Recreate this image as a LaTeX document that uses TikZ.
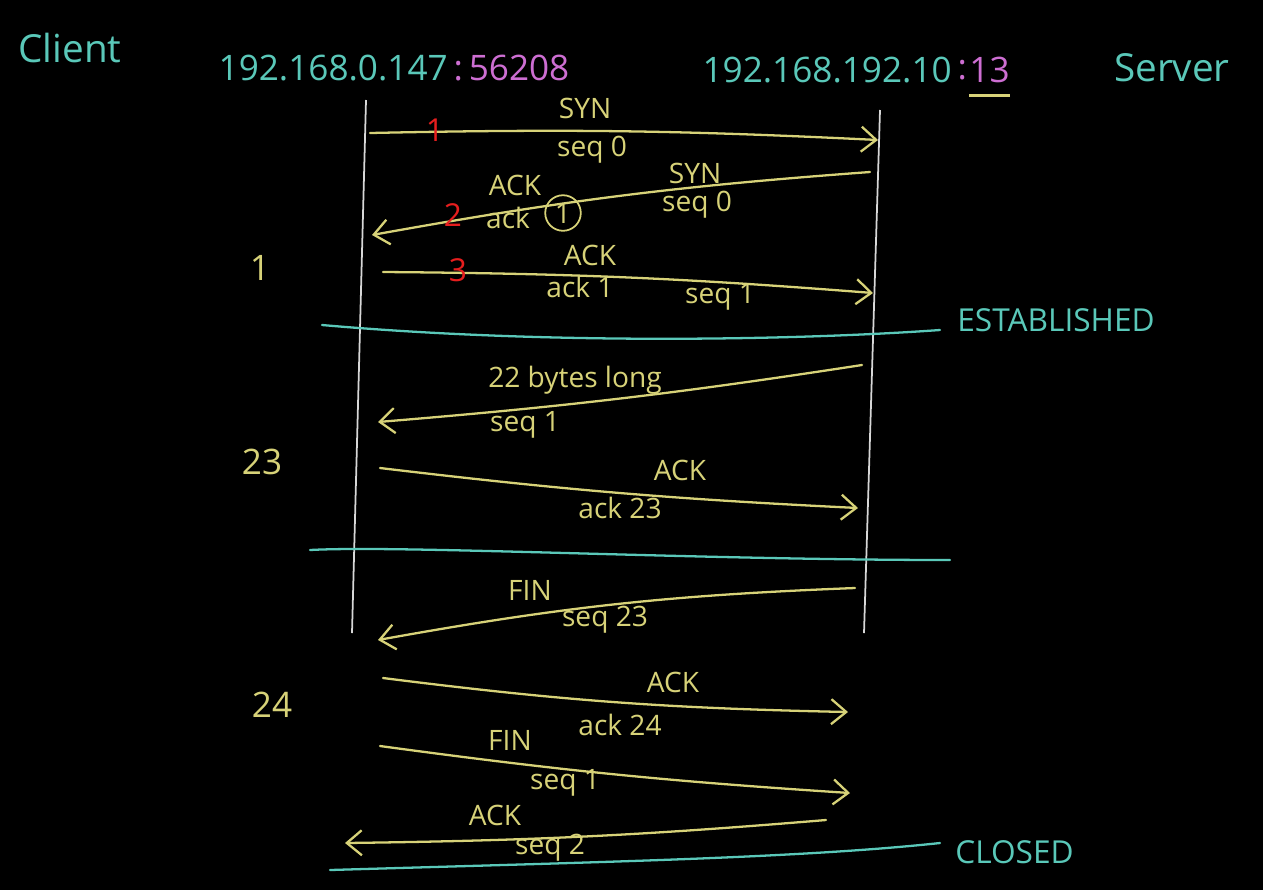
\documentclass[tikz,border=0pt]{standalone}
\usepackage{fontspec}
\setmainfont{Open Sans}
\usetikzlibrary{arrows.meta,positioning}
\definecolor{chalkteal}{RGB}{90,200,185}
\definecolor{chalkyellow}{RGB}{215,210,120}
\definecolor{chalkpink}{RGB}{205,110,210}
\definecolor{chalkred}{RGB}{230,30,30}
\definecolor{chalkgrey}{RGB}{215,215,215}

\begin{document}
\begin{tikzpicture}[
  x=0.02cm, y=-0.02cm,
  msg/.style={draw=chalkyellow, line width=1.3pt, line cap=round,
    -{Straight Barb[length=3mm,width=5mm,line width=1.3pt]}},
  lane/.style={draw=chalkgrey, line width=1pt},
  state/.style={draw=chalkteal, line width=1.3pt, line cap=round},
  lbl/.style={text=chalkyellow, font=\fontsize{16}{18}\selectfont, inner sep=1pt},
  count/.style={text=chalkyellow, font=\fontsize{20}{22}\selectfont, inner sep=0pt},
  head/.style={text=chalkteal, font=\fontsize{22}{24}\selectfont, inner sep=0pt},
  addr/.style={text=chalkteal, font=\fontsize{20}{22}\selectfont, inner sep=0pt},
  port/.style={text=chalkpink, font=\fontsize{20}{22}\selectfont, inner sep=0pt},
  stepnum/.style={text=chalkred, font=\fontsize{18}{20}\selectfont, inner sep=0pt},
  statelbl/.style={text=chalkteal, font=\fontsize{18}{20}\selectfont, inner sep=0pt, anchor=west}
]
  \fill[black] (0,0) rectangle (1263,890);
  \useasboundingbox (0,0) rectangle (1263,890);

  % headers
  \node[head] (client) at (70,48) {Client};
  \node[head] (server) at (1172,68) {Server};
  \node[addr, anchor=east] (caddr) at (448,68) {192.168.0.147};
  \node[port, right=3pt of caddr] (cport) {:\,56208};
  \node[addr, anchor=east] (saddr) at (952,70) {192.168.192.10};
  \node[port, right=3pt of saddr] (scolon) {:};
  \node[port, right=1pt of scolon] (sport) {13};
  \draw[chalkyellow, line width=1.3pt] ([yshift=-7pt]sport.south west) -- ([yshift=-7pt]sport.south east);

  % lifelines
  \coordinate (clitop) at (366,100);
  \coordinate (clibot) at (352,633);
  \coordinate (srvtop) at (880,110);
  \coordinate (srvbot) at (864,633);
  \draw[lane] (clitop) -- (clibot);
  \draw[lane] (srvtop) -- (srvbot);

  % message ends
  \coordinate (synA) at (370,133);   \coordinate (synB) at (878,140);
  \coordinate (synackA) at (870,172); \coordinate (synackB) at (372,235);
  \coordinate (ackA) at (383,272);   \coordinate (ackB) at (873,293);
  \coordinate (dataA) at (862,365);  \coordinate (dataB) at (378,422);
  \coordinate (dackA) at (380,468);  \coordinate (dackB) at (858,508);
  \coordinate (finA) at (855,588);   \coordinate (finB) at (378,640);
  \coordinate (fackA) at (383,678);  \coordinate (fackB) at (848,712);
  \coordinate (cfinA) at (380,746);  \coordinate (cfinB) at (850,793);
  \coordinate (lastA) at (826,820);  \coordinate (lastB) at (345,843);

  \draw[msg] (synA) to[bend left=2] (synB);
  \draw[msg] (synackA) to[bend right=3] (synackB);
  \draw[msg] (ackA) to[bend left=2] (ackB);
  \draw[msg] (dataA) to[bend left=2] (dataB);
  \draw[msg] (dackA) to[bend right=2] (dackB);
  \draw[msg] (finA) to[bend right=4] (finB);
  \draw[msg] (fackA) to[bend right=3] (fackB);
  \draw[msg] (cfinA) to[bend right=2] (cfinB);
  \draw[msg] (lastA) to[bend left=2] (lastB);

  % labels on messages
  \node[lbl] (syn1) at (585,108) {SYN};
  \node[lbl] (seq1) at (592,150) {seq 0};
  \node[lbl] (ack2) at (515,185) {ACK};
  \node[lbl] (ackword) at (508,218) {ack};
  \node[lbl, draw=chalkyellow, circle, inner sep=2pt, line width=1pt] (ackone) at (563,213) {1};
  \node[lbl] (syn2) at (695,173) {SYN};
  \node[lbl] (seq2) at (697,205) {seq 0};
  \node[lbl] (ack3) at (590,255) {ACK};
  \node[lbl] (ackval3) at (580,287) {ack 1};
  \node[lbl] (seq3) at (720,297) {seq 1};
  \node[lbl] (bytes) at (575,380) {22 bytes long};
  \node[lbl] (seq4) at (525,425) {seq 1};
  \node[lbl] (ack5) at (680,470) {ACK};
  \node[lbl] (ackval5) at (620,508) {ack 23};
  \node[lbl] (fin6) at (530,590) {FIN};
  \node[lbl] (seq6) at (605,620) {seq 23};
  \node[lbl] (ack7) at (673,682) {ACK};
  \node[lbl] (ackval7) at (620,725) {ack 24};
  \node[lbl] (fin8) at (510,740) {FIN};
  \node[lbl] (seq8) at (565,783) {seq 1};
  \node[lbl] (ack9) at (495,815) {ACK};
  \node[lbl] (seq9) at (550,848) {seq 2};

  % handshake steps
  \node[stepnum] (one) at (435,130) {1};
  \node[stepnum] (two) at (453,215) {2};
  \node[stepnum] (three) at (458,270) {3};

  % client side counters
  \node[count] (cnt1) at (260,268) {1};
  \node[count] (cnt23) at (262,462) {23};
  \node[count] (cnt24) at (272,705) {24};

  % state lines
  \coordinate (estA) at (322,325);  \coordinate (estB) at (940,330);
  \coordinate (midA) at (310,550);  \coordinate (midB) at (950,560);
  \coordinate (clsA) at (330,870);  \coordinate (clsB) at (940,843);
  \draw[state] (estA) .. controls (550,345) and (800,340) .. (estB);
  \draw[state] (midA) .. controls (400,545) and (700,560) .. (midB);
  \draw[state] (clsA) .. controls (600,862) and (800,858) .. (clsB);
  \node[statelbl] (established) at (957,320) {ESTABLISHED};
  \node[statelbl] (closed) at (955,852) {CLOSED};
\end{tikzpicture}
\end{document}
